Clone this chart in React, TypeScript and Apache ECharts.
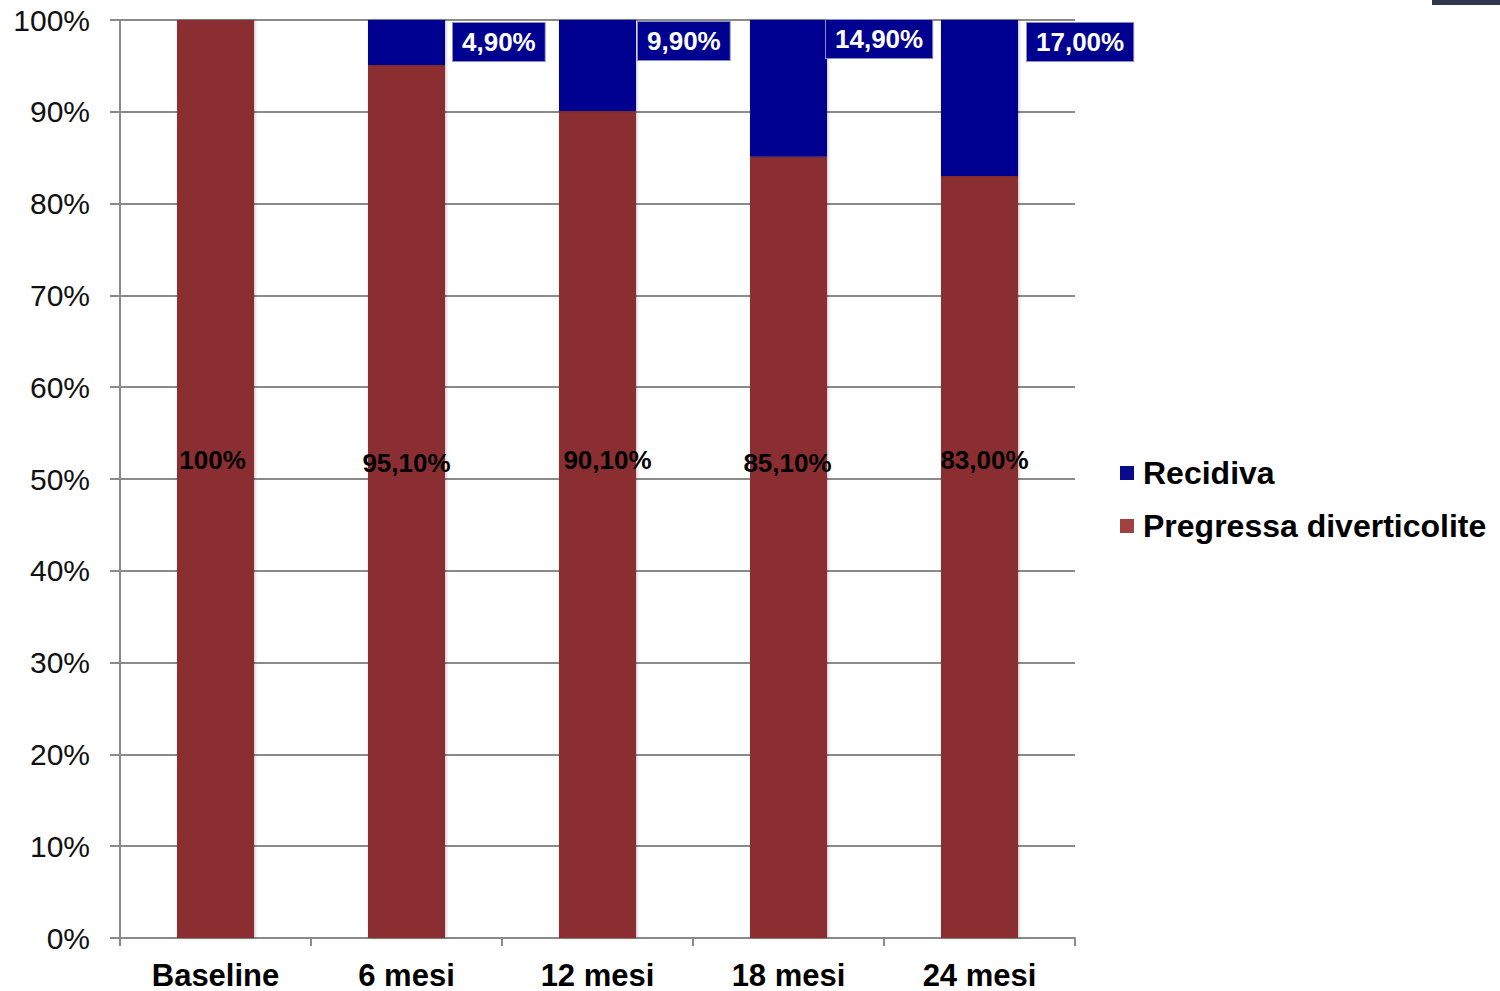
import React, { useEffect, useRef } from "react";
import * as echarts from "echarts";

const categories = ["Baseline", "6 mesi", "12 mesi", "18 mesi", "24 mesi"];
const pregressa = [100, 95.1, 90.1, 85.1, 83.0];
const recidiva = [0, 4.9, 9.9, 14.9, 17.0];
const yTicks = { min: 0, max: 100, interval: 10 };

const BROWN = "#8b2e30";
const BLUE = "#000090";
const FONT = "'Liberation Sans', Arial, sans-serif";

const fmt = (v: number) => (v === 100 ? "100%" : v.toFixed(2).replace(".", ",") + "%");

// per-bar label tweaks (style only)
const brownLabelOffsets = [[-3, 0], [0, 3], [10, 0], [-1, 3], [5, 0]];
const blueLabelPos = [[85, 3], [85, 3], [79, 2], [76, 0], [86, 3]];

export default function App() {
  const ref = useRef<HTMLDivElement>(null);
  useEffect(() => {
    if (!ref.current) return;
    const chart = echarts.init(ref.current, null, { renderer: "svg" });
    const shadow = {
      shadowColor: "rgba(0,0,0,0.25)",
      shadowBlur: 3,
      shadowOffsetX: 1,
      shadowOffsetY: 0,
    };
    chart.setOption({
      animation: false,
      backgroundColor: "#ffffff",
      textStyle: { fontFamily: FONT },
      grid: { left: 120, right: 425, top: 20, bottom: 53, containLabel: false },
      legend: {
        orient: "vertical",
        left: 1115,
        top: 452,
        itemWidth: 14,
        itemHeight: 14,
        itemGap: 21,
        icon: "rect",
        data: [
          { name: "Recidiva", itemStyle: { color: "#0a0a8c" } },
          { name: "Pregressa diverticolite", itemStyle: { color: "#a04040" } },
        ],
        textStyle: {
          fontFamily: FONT,
          fontWeight: "bold",
          fontSize: 32,
          color: "#000",
          padding: [0, 0, 0, 4],
        },
      },
      xAxis: {
        type: "category",
        data: categories,
        axisLine: { show: true, lineStyle: { color: "#8a8a8a", width: 2 } },
        axisTick: { show: true, length: 8, lineStyle: { color: "#8a8a8a", width: 2 } },
        axisLabel: {
          margin: 23,
          fontFamily: FONT,
          fontWeight: "bold",
          fontSize: 31,
          lineHeight: 28,
          color: "#000",
        },
      },
      yAxis: {
        type: "value",
        min: yTicks.min,
        max: yTicks.max,
        interval: yTicks.interval,
        axisLine: { show: true, lineStyle: { color: "#8a8a8a", width: 2 } },
        axisTick: { show: true, length: 10, lineStyle: { color: "#8a8a8a", width: 2 } },
        splitLine: { show: true, lineStyle: { color: "#8a8a8a", width: 2 } },
        axisLabel: {
          margin: 30,
          fontFamily: FONT,
          fontSize: 30,
          color: "#111",
          formatter: "{value}%",
        },
      },
      series: [
        {
          name: "Pregressa diverticolite",
          type: "bar",
          stack: "tot",
          barWidth: 77,
          itemStyle: { color: BROWN, ...shadow },
          data: pregressa.map((v, i) => ({
            value: v,
            label: {
              show: true,
              position: "insideBottom",
              distance: 465,
              offset: brownLabelOffsets[i],
              formatter: fmt(v),
              fontFamily: FONT,
              fontWeight: "bold",
              fontSize: 26,
              lineHeight: 26,
              color: "#000",
            },
          })),
        },
        {
          name: "Recidiva",
          type: "bar",
          stack: "tot",
          barWidth: 77,
          itemStyle: { color: BLUE, ...shadow },
          data: recidiva.map((v, i) => ({
            value: v,
            label: {
              show: v > 0,
              position: blueLabelPos[i],
              align: "left",
              verticalAlign: "top",
              formatter: fmt(v),
              fontFamily: FONT,
              fontWeight: "bold",
              fontSize: 26,
              lineHeight: 28,
              color: "#fff",
              backgroundColor: BLUE,
              borderColor: "#8c8cc8",
              borderWidth: 1,
              padding: [5, 9, 5, 9],
            },
          })),
        },
      ],
      graphic: [
        {
          type: "rect",
          right: 0,
          top: 0,
          shape: { width: 68, height: 5 },
          style: { fill: "#2e3650" },
        },
      ],
    });
    return () => chart.dispose();
  }, []);
  return (
    <div
      ref={ref}
      style={{ position: "fixed", left: 0, top: 0, width: 1500, height: 991 }}
    />
  );
}
